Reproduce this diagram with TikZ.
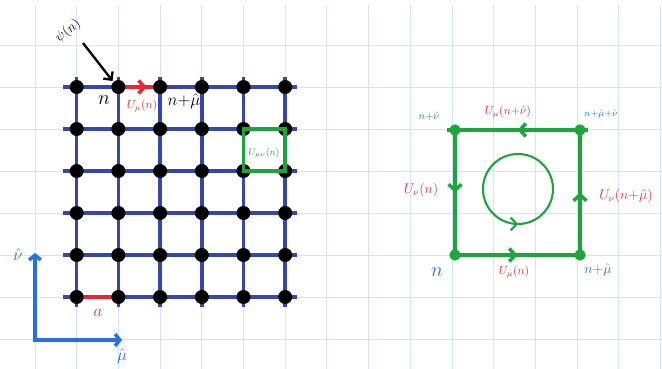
\documentclass[tikz,border=0pt]{standalone}
\usepackage{amsmath,amssymb}
\usepackage{tikz}
\usetikzlibrary{arrows.meta,decorations.markings}
\usepackage{xcolor}
\definecolor{paperblue}{RGB}{212,228,250}
\definecolor{latticeblue}{RGB}{52,72,172}
\definecolor{linkred}{RGB}{228,42,48}
\definecolor{plaqgreen}{RGB}{28,165,58}
\definecolor{labelblue}{RGB}{38,112,225}
\tikzset{
	midarrow/.style={postaction={decorate},decoration={markings,mark=at position #1 with {\arrow{Straight Barb[length=5pt,width=11pt]}}}},
	site/.style={circle,fill=black,inner sep=0pt,minimum size=0.42cm},
	gsite/.style={circle,fill=plaqgreen,inner sep=0pt,minimum size=0.34cm},
}

\begin{document}
\begin{tikzpicture}[x=0.03cm,y=-0.03cm]
	\newcommand{\gridstep}{41.7}
	\useasboundingbox (0,0) rectangle (662,369);
	\foreach \k in {0,...,15}
		\draw[paperblue, line width=0.8pt] (35+\gridstep*\k,5) -- (35+\gridstep*\k,369);
	\foreach \k in {0,...,7}
		\draw[paperblue, line width=0.8pt] (0,45+42*\k) -- (662,45+42*\k);
	% lattice
	\foreach \i in {1,...,6}
		\foreach \j in {1,...,6}
			\coordinate (s-\i-\j) at (35+\gridstep*\i,45+42*\j);
	\foreach \k in {1,...,6}
	{
		\draw[latticeblue, line width=3pt, shorten <=-0.4cm, shorten >=-0.36cm] (s-1-\k) -- (s-6-\k);
		\draw[latticeblue, line width=3pt, shorten <=-0.3cm, shorten >=-0.3cm] (s-\k-1) -- (s-\k-6);
	}
	\draw[linkred, line width=3pt, midarrow=0.68] (s-2-1) -- (s-3-1);
	\draw[linkred, line width=3pt] (s-1-6) -- (s-2-6);
	\foreach \i in {1,...,6}
		\foreach \j in {1,...,6}
			\node[site] (d-\i-\j) at (s-\i-\j) {};
	\draw[plaqgreen, line width=3pt] (s-5-2) rectangle (s-6-3);
	\node[plaqgreen, font=\footnotesize] (uplaq) at (264,153) {$U_{\mu\nu}(n)$};
	\node[rotate=38, font=\large] (psi) at (68,31) {$\psi(n)$};
	\coordinate (psitail) at (83,43);
	\draw[-{Straight Barb[length=5pt,width=10pt]}, line width=2pt, shorten >=1pt] (psitail) -- (d-2-1.north west);
	\node[font=\LARGE] (nl) at (104,100) {$n$};
	\node[linkred, font=\normalsize] (umul) at (142,106) {$U_\mu(n)$};
	\node[font=\Large] (nmul) at (184,101) {$n{+}\hat\mu$};
	\node[linkred, font=\Large] (alab) at (98,313) {$a$};
	% axes
	\coordinate (origin) at (35,340);
	\coordinate (nuend) at (35,253);
	\coordinate (muend) at (122,340);
	\draw[labelblue, line width=3pt, {Straight Barb[length=4pt,width=10pt]}-{Straight Barb[length=4pt,width=10pt]}] (nuend) -- (origin) -- (muend);
	\node[labelblue, font=\Large] (nuhat) at (18,255) {$\hat\nu$};
	\node[labelblue, font=\Large] (muhat) at (122,356) {$\hat\mu$};
	% plaquette
	\coordinate (q-00) at (455,255);
	\coordinate (q-10) at (580,255);
	\coordinate (q-11) at (580,130);
	\coordinate (q-01) at (455,130);
	\draw[plaqgreen, line width=3pt, midarrow=0.5] (q-00) -- (q-10);
	\draw[plaqgreen, line width=3pt, midarrow=0.5] (q-10) -- (q-11);
	\draw[plaqgreen, line width=3pt, midarrow=0.5, shorten <=-0.24cm, shorten >=-0.24cm] (q-11) -- (q-01);
	\draw[plaqgreen, line width=3pt, midarrow=0.5] (q-01) -- (q-00);
	\foreach \c in {00,10,11,01}
		\node[gsite] (g-\c) at (q-\c) {};
	\coordinate (loopc) at (518,189);
	\draw[plaqgreen, line width=1.8pt, midarrow=0.25] (loopc) ++(180:35) arc[start angle=180, end angle=-180, radius=35];
	\node[labelblue, font=\small] (nnu) at (429,116) {$n{+}\hat\nu$};
	\node[labelblue, font=\footnotesize] (nmunu) at (601,114) {$n{+}\hat\mu{+}\hat\nu$};
	\node[linkred, font=\normalsize] (utop) at (508,112) {$U_\mu(n{+}\hat\nu)$};
	\node[linkred, font=\large] (uleft) at (421,190) {$U_\nu(n)$};
	\node[linkred, font=\large] (uright) at (626,196) {$U_\nu(n{+}\hat\mu)$};
	\node[labelblue, font=\LARGE] (nbl) at (437,272) {$n$};
	\node[linkred, font=\normalsize] (ubot) at (514,272) {$U_\mu(n)$};
	\node[labelblue, font=\large] (nbr) at (598,270) {$n{+}\hat\mu$};
\end{tikzpicture}
\end{document}
